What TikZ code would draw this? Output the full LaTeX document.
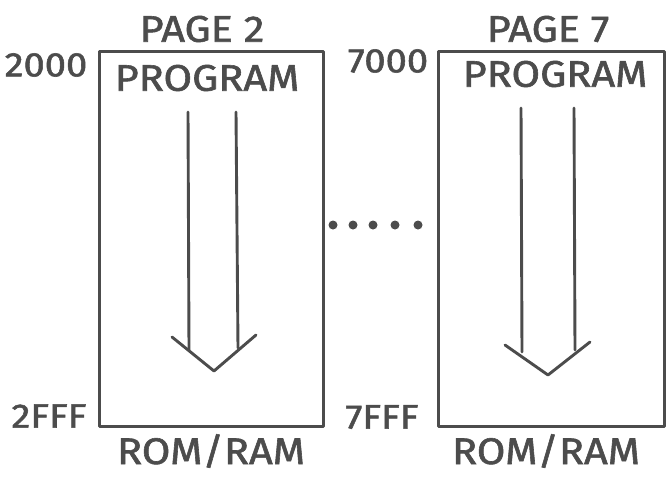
\documentclass[tikz,border=0pt]{standalone}
\usepackage{fontspec}
\setmainfont{Fira Sans}[FakeStretch=1.12, FakeBold=1.6]
\definecolor{inkgray}{HTML}{4C4C4C}
\begin{document}
\begin{tikzpicture}[x=1pt,y=-1pt,
  ink/.style={draw=inkgray, line width=2.9pt, line cap=round, line join=round},
  pagebox/.style={ink, rectangle, minimum height=375pt, anchor=north west, inner sep=0pt},
  lbl/.style={text=inkgray, inner sep=0pt, font=\fontsize{37}{37}\selectfont},
  addr/.style={text=inkgray, inner sep=0pt, font=\fontsize{34}{34}\selectfont}]
\useasboundingbox (0,0) rectangle (666,479);

% memory pages
\node[pagebox, minimum width=224pt] (p2) at (98,50) {};
\node[pagebox, minimum width=226pt] (p7) at (437,50) {};

% page titles and contents
\node[lbl] (t2) at (202,29) {PAGE 2};
\node[lbl] (t7) at (548,29) {PAGE 7};
\node[lbl] (g2) at (207,78) {PROGRAM};
\node[lbl] (g7) at (555,74) {PROGRAM};
\node[lbl] (r2) at (211,451) {ROM/RAM};
\node[lbl] (r7) at (546,451) {ROM/RAM};

% addresses
\node[addr] (a2s) at (46,65) {2000};
\node[addr] (a2e) at (49,416) {2FFF};
\node[addr] (a7s) at (388,61) {7000};
\node[addr] (a7e) at (382,417) {7FFF};

% program flow arrows
\draw[ink] (188,112) -- (189,350);
\draw[ink] (236,112) -- (238,348);
\draw[ink] (172,337) -- (214,371) -- (256,335);

\draw[ink] (521,108) -- (522,352);
\draw[ink] (574,108) -- (575,350);
\draw[ink] (505,345) -- (548,375) -- (590,342);

% continuation dots between the pages
\foreach \px in {333,353,373,395,418}
  \fill[inkgray] (\px,225) circle (4.5pt);
\end{tikzpicture}
\end{document}
